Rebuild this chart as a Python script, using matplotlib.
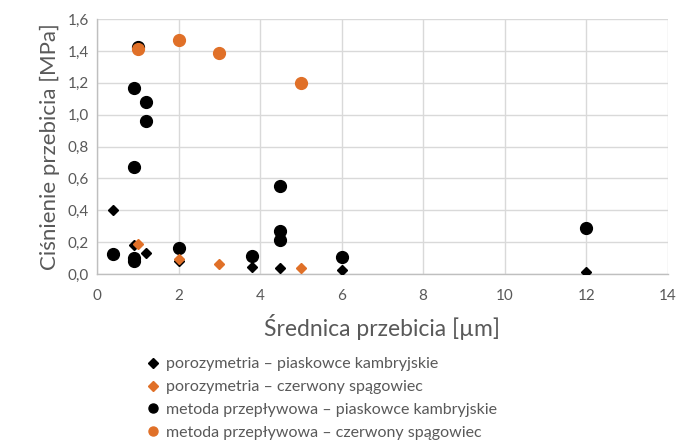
import matplotlib
matplotlib.use("Agg")
import matplotlib.pyplot as plt
from matplotlib.ticker import FuncFormatter, MultipleLocator

plt.rcParams['font.family'] = ['Lato', 'DejaVu Sans']

# porozymetria – piaskowce kambryjskie
poro_kamb_x = [0.4, 0.9, 1.2, 2.0, 3.8, 4.5, 6.0, 12.0]
poro_kamb_y = [0.40, 0.18, 0.13, 0.08, 0.045, 0.038, 0.025, 0.01]

# porozymetria – czerwony spągowiec
poro_czer_x = [1.0, 2.0, 3.0, 5.0]
poro_czer_y = [0.19, 0.094, 0.06, 0.038]

# metoda przepływowa – piaskowce kambryjskie
przep_kamb_x = [0.4, 0.9, 0.9, 1.0, 0.9, 1.2, 1.2, 0.9, 2.0, 3.8, 4.5, 4.5, 4.5, 6.0, 12.0]
przep_kamb_y = [0.125, 0.08, 0.10, 1.425, 1.17, 1.077, 0.958, 0.67, 0.16, 0.113,
                0.552, 0.272, 0.213, 0.105, 0.289]

# metoda przepływowa – czerwony spągowiec
przep_czer_x = [1.0, 2.0, 3.0, 5.0]
przep_czer_y = [1.413, 1.47, 1.388, 1.20]

orange = '#e07028'
gray_txt = '#595959'

fig = plt.figure(figsize=(6.78, 4.44), dpi=100)
ax = fig.add_axes([0.143, 0.383, 0.842, 0.574])

ax.plot(przep_kamb_x, przep_kamb_y, 'o', color='black', markersize=8.5, linestyle='none',
        label='metoda przepływowa – piaskowce kambryjskie', zorder=3)
ax.plot(przep_czer_x, przep_czer_y, 'o', color=orange, markersize=8.5, linestyle='none',
        label='metoda przepływowa – czerwony spągowiec', zorder=4)
ax.plot(poro_kamb_x, poro_kamb_y, 'D', color='black', markersize=5.5, linestyle='none',
        label='porozymetria – piaskowce kambryjskie', zorder=5)
ax.plot(poro_czer_x, poro_czer_y, 'D', color=orange, markersize=5.5, linestyle='none',
        label='porozymetria – czerwony spągowiec', zorder=6)

ax.set_xlim(0, 14)
ax.set_ylim(0, 1.6)
ax.xaxis.set_major_locator(MultipleLocator(2))
ax.yaxis.set_major_locator(MultipleLocator(0.2))
ax.yaxis.set_major_formatter(FuncFormatter(lambda v, p: f"{v:.1f}".replace('.', ',')))
ax.grid(True, color='#d9d9d9', linewidth=1)
ax.set_axisbelow(True)
for s in ['top', 'right']:
    ax.spines[s].set_visible(False)
for s in ['left', 'bottom']:
    ax.spines[s].set_color('#bfbfbf')
    ax.spines[s].set_linewidth(1)
ax.tick_params(colors=gray_txt, labelsize=11, length=0, pad=6)
ax.tick_params(axis='x', pad=11)

ax.set_xlabel('Średnica przebicia [µm]', fontsize=16.5, color=gray_txt, labelpad=8)
ax.set_ylabel('Ciśnienie przebicia [MPa]', fontsize=16, color=gray_txt, labelpad=5)

h, l = ax.get_legend_handles_labels()
order = [2, 3, 0, 1]
handles = []
for i in order:
    hh = h[i]
    proxy = plt.Line2D([], [], marker=hh.get_marker(), color=hh.get_color(), linestyle='none',
                       markersize=6.5 if hh.get_marker() == 'o' else 5)
    handles.append(proxy)
leg = fig.legend(handles, [l[i] for i in order], loc='upper left',
                 bbox_to_anchor=(0.207, 0.214), frameon=False, fontsize=11.5,
                 handlelength=0.6, handletextpad=0.5, labelspacing=0.55,
                 borderpad=0)
for t in leg.get_texts():
    t.set_color(gray_txt)

fig.savefig('out.png', dpi=100)
